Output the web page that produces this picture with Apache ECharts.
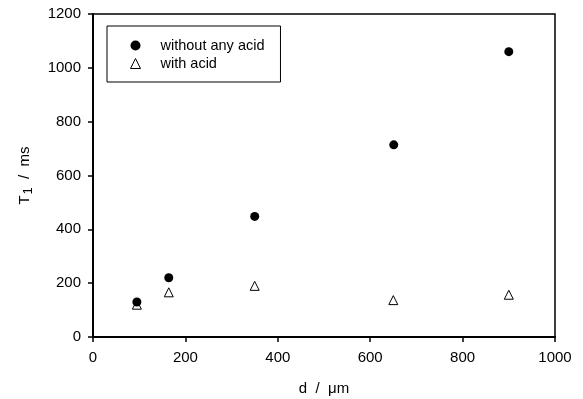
<!DOCTYPE html>
<html>
<head>
<meta charset="utf-8">
<script src="https://cdn.jsdelivr.net/npm/echarts@6/dist/echarts.min.js"></script>
<style>
  html, body { margin: 0; padding: 0; background: #fff; }
  #chart { width: 583px; height: 399px; }
</style>
</head>
<body>
<div id="chart"></div>
<script>
// d / um  vs  T1 / ms
const noAcidD = [95, 164, 350, 651, 900];
const noAcidT = [130, 220, 448, 714, 1060];
const acidD = [95, 164, 350, 650, 900];
const acidT = [120, 166, 190, 137, 157];

const font = 'Liberation Sans, Arial, sans-serif';

const toPairs = (xs, ys) => xs.map((x, i) => [x, ys[i]]);

const chart = echarts.init(document.getElementById('chart'));
chart.setOption({
    animation: false,
    backgroundColor: '#fff',
    grid: {
        left: 93,
        right: 28,
        top: 14,
        bottom: 62,
        outerBoundsMode: 'none',
        containLabel: false,
        show: true,
        borderColor: '#000',
        borderWidth: 1.5
    },
    legend: {
        orient: 'vertical',
        left: 107,
        top: 26,
        padding: [12, 16, 11, 23],
        itemWidth: 10,
        itemHeight: 10,
        itemGap: 3,
        borderColor: '#000',
        borderWidth: 1,
        itemStyle: { borderWidth: 1 },
        textStyle: { fontFamily: font, fontSize: 14.5, color: '#000', padding: [0, 0, 0, 15] },
        data: ['without any acid', 'with acid']
    },
    xAxis: {
        type: 'value',
        min: 0,
        max: 1000,
        interval: 200,
        name: 'd  /  μm',
        nameLocation: 'middle',
        nameGap: 44,
        nameTextStyle: { fontFamily: font, fontSize: 15, color: '#000' },
        axisLine: { lineStyle: { color: '#000', width: 2 } },
        axisTick: { length: 5, lineStyle: { color: '#000', width: 1.5 } },
        axisLabel: { fontFamily: font, fontSize: 15, color: '#000', margin: 13, formatter: v => String(v) },
        splitLine: { show: false }
    },
    yAxis: {
        type: 'value',
        min: 0,
        max: 1200,
        interval: 200,
        name: '{t|T}{s|1}{t|  /  ms}',
        nameLocation: 'middle',
        nameGap: 58,
        nameTextStyle: {
            fontFamily: font,
            color: '#000',
            rich: {
                t: { fontFamily: font, fontSize: 15, color: '#000' },
                s: { fontFamily: font, fontSize: 13, color: '#000', verticalAlign: 'bottom', padding: [8, 0, 0, 1] }
            }
        },
        axisLine: { lineStyle: { color: '#000', width: 2 } },
        axisTick: { length: 5, lineStyle: { color: '#000', width: 1.5 } },
        axisLabel: { fontFamily: font, fontSize: 15, color: '#000', margin: 12, formatter: v => String(v) },
        splitLine: { show: false }
    },
    series: [
        {
            name: 'without any acid',
            type: 'scatter',
            symbol: 'circle',
            symbolSize: 9,
            itemStyle: { color: '#000', opacity: 1 },
            data: toPairs(noAcidD, noAcidT),
            z: 3
        },
        {
            name: 'with acid',
            type: 'scatter',
            symbol: 'triangle',
            symbolSize: 9,
            itemStyle: { color: '#fff', borderColor: '#000', borderWidth: 1, opacity: 1 },
            data: toPairs(acidD, acidT),
            z: 2
        }
    ]
});
</script>
</body>
</html>
